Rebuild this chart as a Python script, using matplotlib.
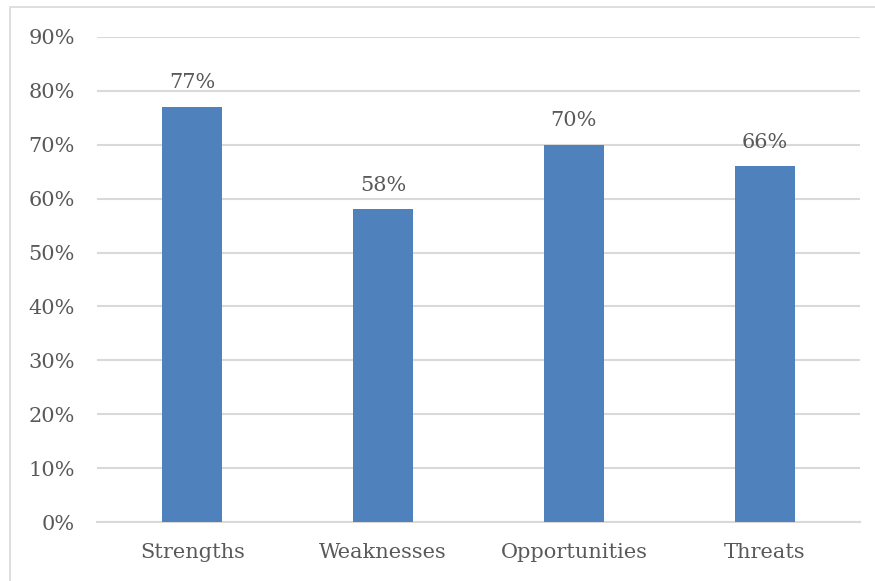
import matplotlib.pyplot as plt
from matplotlib.patches import Rectangle
from matplotlib.ticker import PercentFormatter

categories = ["Strengths", "Weaknesses", "Opportunities", "Threats"]
values = [77, 58, 70, 66]
yticks = list(range(0, 91, 10))

bar_color = "#4f81bd"
text_color = "#595959"
grid_color = "#d9d9d9"

plt.rcParams["font.family"] = ["DejaVu Serif"]

fig = plt.figure(figsize=(8.75, 5.81), dpi=100)
ax = fig.add_axes([97 / 875, 1 - 522 / 581, 763 / 875, 485 / 581])

# outer chart frame
fig.patches.append(Rectangle((10 / 875, -0.05), 1.0, 1 - 7 / 581 + 0.05,
                             transform=fig.transFigure, fill=False,
                             edgecolor=grid_color, linewidth=1.2))

x = range(len(categories))
bars = ax.bar(x, values, width=0.315, color=bar_color, zorder=3)

for rect, v in zip(bars, values):
    ax.annotate(f"{v}%", (rect.get_x() + rect.get_width() / 2, v),
                xytext=(0, 10.5), textcoords="offset points",
                ha="center", va="bottom", fontsize=15, color=text_color)

ax.set_xlim(-0.5, len(categories) - 0.5)
ax.set_ylim(0, 90)
ax.set_yticks(yticks)
ax.yaxis.set_major_formatter(PercentFormatter(decimals=0))
ax.set_xticks(list(x))
ax.set_xticklabels(categories)

ax.grid(axis="y", color=grid_color, linewidth=1.5, zorder=0)
for side in ["top", "right", "left"]:
    ax.spines[side].set_visible(False)
ax.spines["bottom"].set_color(grid_color)
ax.spines["bottom"].set_linewidth(1.5)

ax.tick_params(axis="both", length=0, labelsize=15, colors=text_color)
ax.tick_params(axis="y", pad=16)
ax.tick_params(axis="x", pad=15)

fig.savefig("out.png", dpi=100)
